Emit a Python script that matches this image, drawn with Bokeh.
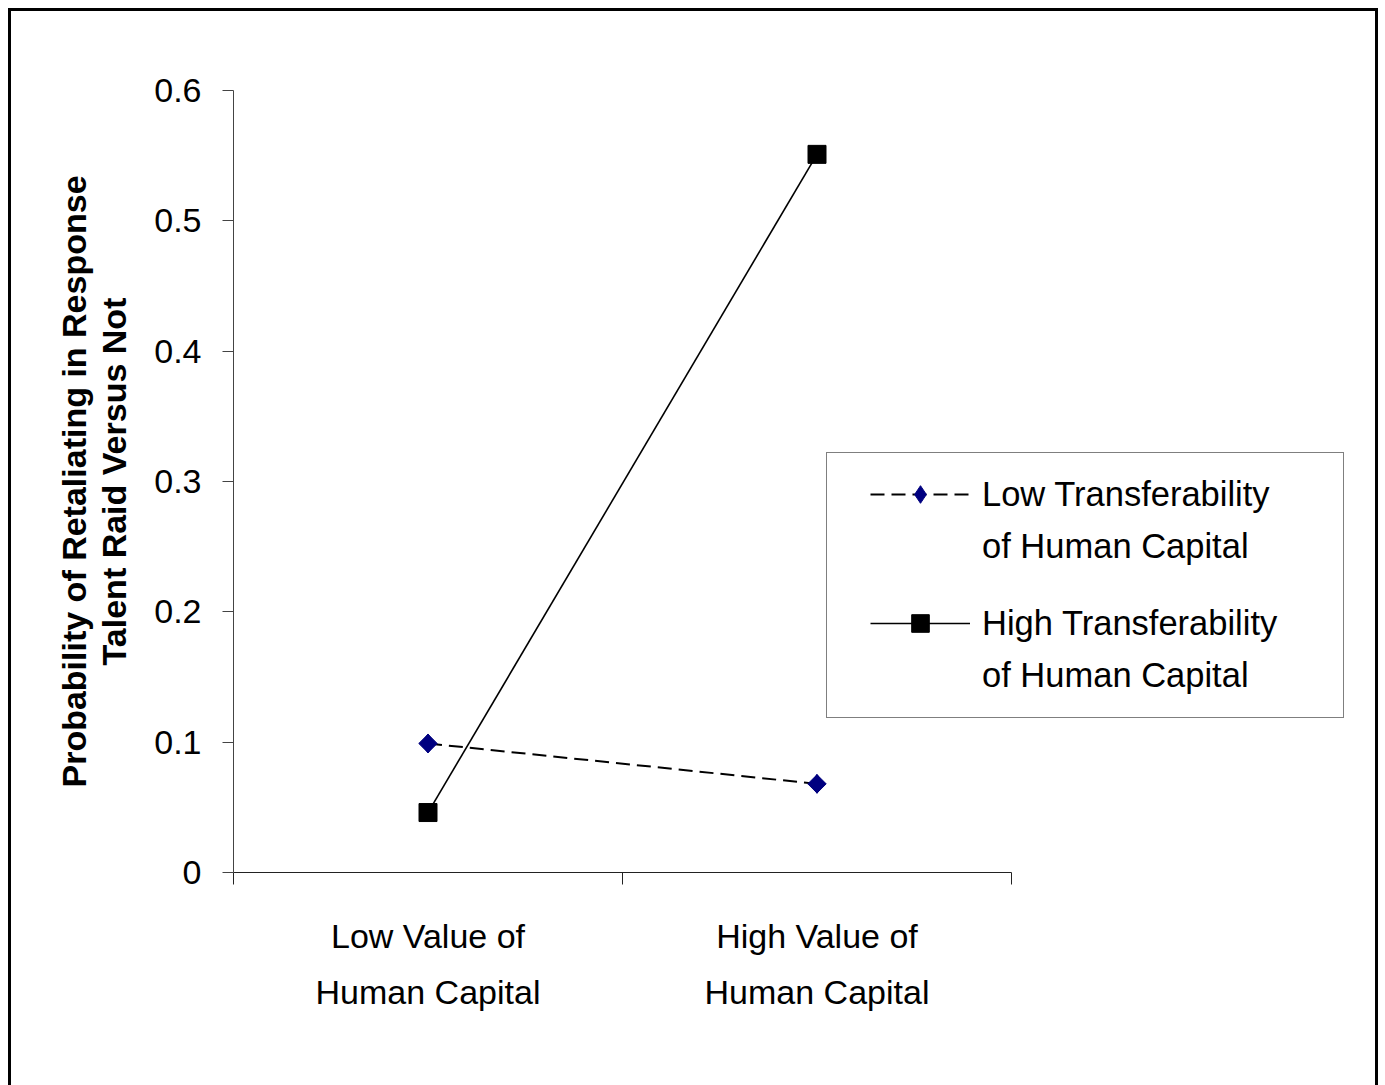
import math
from bokeh.plotting import figure
from bokeh.models import FixedTicker, Range1d, Legend, LegendItem
from bokeh.embed import file_html
from bokeh.resources import INLINE

# ---- data ----
categories = ["Low Value of\nHuman Capital", "High Value of\nHuman Capital"]
low_transfer = [0.099, 0.068]
high_transfer = [0.046, 0.551]
series_line1 = ["Low Transferability", "High Transferability"]
series_line2 = ["of Human Capital", "of Human Capital"]
y_ticks = [0, 0.1, 0.2, 0.3, 0.4, 0.5, 0.6]
y_tick_labels = ["0", "0.1", "0.2", "0.3", "0.4", "0.5", "0.6"]
y_label = "Probability of Retaliating in Response\nTalent Raid Versus Not"

FONT = "Liberation Sans"
FS = "34px"

# ---- layout (pixels, page coordinates) ----
OFF = 8 + 3            # element margin + border
FRAME_L, FRAME_T, FRAME_B = 233, 90, 872
AXIS_R = 1011          # where the category axis ends
FRAME_R = 1360         # frame extended so the legend is not clipped
W, H = 1370, 1077
n = len(categories)
x_end = n * (FRAME_R - FRAME_L) / (AXIS_R - FRAME_L)

x_pos = [i + 0.5 for i in range(n)]
x_bounds = [float(i) for i in range(n + 1)]

p = figure(width=W, height=H, output_backend="svg", toolbar_location=None,
           x_range=Range1d(0, x_end), y_range=Range1d(0, 0.6),
           min_border_left=FRAME_L - OFF, min_border_top=FRAME_T - OFF,
           min_border_right=OFF + W - FRAME_R, min_border_bottom=OFF + H - FRAME_B)
p.styles = {"border": "3px solid black", "border-bottom": "0px none",
            "margin-left": "8px", "margin-top": "8px"}
p.outline_line_color = None
p.grid.visible = False
p.background_fill_color = "white"
p.border_fill_color = "white"

# x axis
xa = p.xaxis[0]
xa.bounds = (0, n)
xa.ticker = FixedTicker(ticks=x_pos, minor_ticks=x_bounds)
xa.major_label_overrides = {x: c for x, c in zip(x_pos, categories)}
xa.major_tick_line_color = None
xa.minor_tick_out = 12
xa.minor_tick_in = 0
xa.minor_tick_line_color = "#222222"
xa.axis_line_color = "#222222"
xa.major_label_text_font = FONT
xa.major_label_text_font_size = FS
xa.major_label_text_color = "black"
xa.major_label_text_line_height = 1.48
xa.major_label_standoff = 32

# y axis
ya = p.yaxis[0]
ya.ticker = FixedTicker(ticks=y_ticks, minor_ticks=[])
ya.major_label_overrides = {t: l for t, l in zip(y_ticks, y_tick_labels)}
ya.major_tick_out = 11
ya.major_tick_in = 0
ya.major_tick_line_color = "#444444"
ya.axis_line_color = "#444444"
ya.major_label_text_font = FONT
ya.major_label_text_font_size = FS
ya.major_label_text_color = "black"
ya.major_label_standoff = 21
ya.axis_label = y_label
ya.axis_label_text_font = FONT
ya.axis_label_text_font_size = "34px"
ya.axis_label_text_font_style = "bold"
ya.axis_label_text_color = "black"
ya.axis_label_text_line_height = 1.05
ya.axis_label_standoff = 18

# series
l1 = p.line(x_pos, low_transfer, line_color="black", line_width=2, line_dash="14 7")
s1 = p.scatter(x_pos, low_transfer, marker="diamond", size=19,
               fill_color="#000080", line_color="#000080")
s1b = p.scatter(x_pos, low_transfer, marker="square", size=13, angle=math.pi / 4,
                fill_color="#000080", line_color="#000080")
l2 = p.line(x_pos, high_transfer, line_color="black", line_width=1.6)
s2 = p.scatter(x_pos, high_transfer, marker="square", size=18,
               fill_color="black", line_color="black")

# legend box
LEG_L, LEG_T, LEG_R, LEG_B = 826, 454, 1342, 718
box = Legend(items=[LegendItem(label="", renderers=[])],
             location=(LEG_L - FRAME_L, FRAME_B - LEG_B), margin=0, padding=0,
             glyph_width=LEG_R - LEG_L, glyph_height=LEG_B - LEG_T,
             label_standoff=0, label_width=0, label_height=0,
             label_text_font_size="1px",
             border_line_color="black", border_line_width=1,
             background_fill_color="white", background_fill_alpha=1)
p.add_layout(box)

GLYPH_X = 870
ROW_H = 44
row1 = [494, 623]
row2 = [546, 675]

common = dict(margin=0, padding=0, glyph_width=100, glyph_height=ROW_H, label_standoff=12,
              label_height=ROW_H, label_text_font=FONT, label_text_font_size="34.5px",
              label_text_color="black", border_line_color=None, background_fill_alpha=0)

leg1 = Legend(items=[LegendItem(label=series_line1[0], renderers=[l1, s1]),
                     LegendItem(label=series_line1[1], renderers=[l2, s2])],
              location=(GLYPH_X - FRAME_L, FRAME_B - (row1[-1] + ROW_H // 2)),
              spacing=(row1[1] - row1[0]) - ROW_H, **common)
leg2 = Legend(items=[LegendItem(label=series_line2[0], renderers=[]),
                     LegendItem(label=series_line2[1], renderers=[])],
              location=(GLYPH_X - FRAME_L, FRAME_B - (row2[-1] + ROW_H // 2)),
              spacing=(row2[1] - row2[0]) - ROW_H, **common)
p.add_layout(leg1)
p.add_layout(leg2)

open("out.html", "w").write(file_html(p, INLINE))
